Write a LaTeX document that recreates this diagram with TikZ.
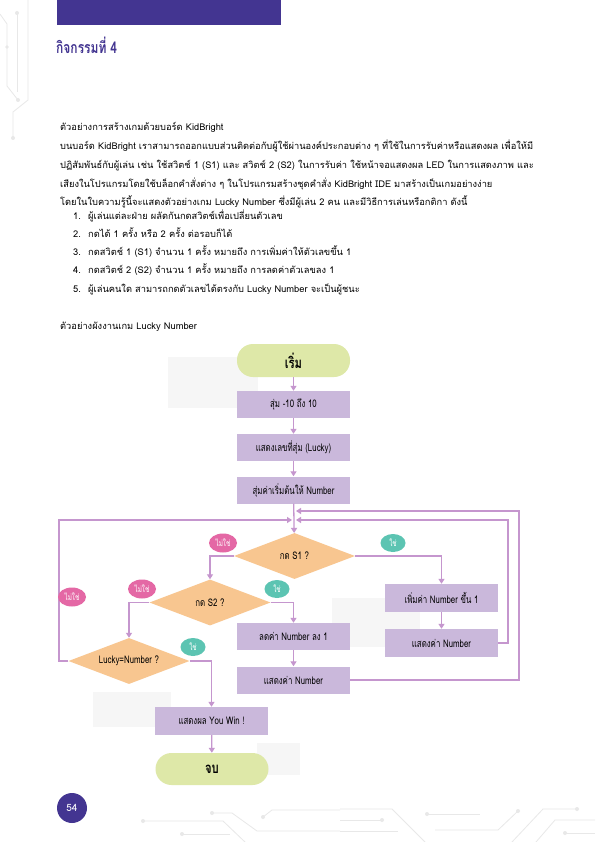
\documentclass[tikz,border=0pt]{standalone}
\usepackage{fontspec}
\setmainfont[Script=Thai]{Loma}
\newfontfamily\condf[Script=Thai,FakeStretch=0.75]{Loma}
\newfontfamily\bodyf[Script=Thai]{Loma}
\usetikzlibrary{arrows.meta,shapes.geometric}
\definecolor{darkpurple}{RGB}{67,53,145}
\definecolor{termgreen}{RGB}{222,232,168}
\definecolor{proclav}{RGB}{202,184,219}
\definecolor{decpeach}{RGB}{248,198,144}
\definecolor{linec}{RGB}{197,150,206}
\definecolor{yesteal}{RGB}{92,196,178}
\definecolor{nopink}{RGB}{228,104,165}
\definecolor{circuit}{RGB}{232,232,232}
\definecolor{patch}{RGB}{246,246,246}
\begin{document}
\begin{tikzpicture}[x=1pt,y=-1pt,
  term/.style={rectangle, rounded corners=16pt, fill=termgreen, minimum width=113pt, minimum height=33pt, font=\condf\bfseries\fontsize{15}{16}\selectfont},
  proc/.style={rectangle, fill=proclav, minimum width=113pt, minimum height=27pt, inner sep=1pt, font=\condf\fontsize{10.5}{11}\selectfont},
  dec/.style={diamond, fill=decpeach, aspect=2.6, inner sep=1pt, minimum width=121pt, minimum height=46pt, font=\condf\fontsize{10.5}{11}\selectfont},
  yesl/.style={ellipse, fill=yesteal, text=white, minimum width=25pt, minimum height=18pt, inner sep=0pt, font=\condf\fontsize{8.5}{9}\selectfont},
  nol/.style={ellipse, fill=nopink, text=white, minimum width=28pt, minimum height=19pt, inner sep=0pt, font=\condf\fontsize{8.5}{9}\selectfont},
  arr/.style={draw=linec, line width=1.3pt, -{Triangle[length=5pt,width=6pt]}},
  bodytext/.style={anchor=base west, inner sep=0pt, font=\bodyf\fontsize{9.3}{10}\selectfont},
  circ/.style={draw=circuit, line width=0.8pt},
  dot/.style={fill=circuit}
]
\useasboundingbox (0,0) rectangle (595,842);
\fill[white] (0,0) rectangle (595,842);

% circuit decorations
\draw[circ] (28,0) -- (28,100) -- (13,112) -- (13,138);
\fill[dot] (13,138) circle (2);
\draw[circ] (17,13) -- (17,92);
\fill[dot] (17,13) circle (2);
\draw[circ] (0,14) -- (7,24) -- (7,86) -- (18,100);
\fill[dot] (18,100) circle (2);
\fill[dot] (7,47) circle (1.8);
\draw[circ] (340,809) -- (392,809) -- (425,842);
\draw[circ] (340,820) -- (382,820); \fill[dot] (382,820) circle (2);
\draw[circ] (340,831) -- (398,831);
\draw[circ] (427,814) -- (480,814); \fill[dot] (427,814) circle (2);
\draw[circ] (435,830) -- (498,830) -- (518,811); \fill[dot] (518,811) circle (2);
\draw[circ] (512,842) -- (543,809) -- (577,809); \fill[dot] (577,809) circle (2);
\draw[circ] (536,842) -- (555,820) -- (595,820);
\draw[circ] (565,833) -- (595,833); \fill[dot] (565,833) circle (2);
\draw[circ] (143,821) -- (223,821) -- (245,842); \fill[dot] (143,821) circle (2);
\draw[circ] (212,813) -- (232,813) -- (257,831) -- (340,831); \fill[dot] (212,813) circle (2);
\draw[circ] (182,834) -- (230,834); \fill[dot] (182,834) circle (2);
\draw[circ] (263,817) -- (272,810) -- (340,810); \fill[dot] (263,817) circle (2);

% faint patches
\fill[patch] (168,357) rectangle (258,408);
\fill[patch] (332,598) rectangle (420,647);
\fill[patch] (93,692) rectangle (171,727);
\fill[patch] (257,743) rectangle (300,775);

% header
\fill[darkpurple] (57,0) rectangle (281,25);
\node[anchor=west, inner sep=0pt, text=darkpurple, font=\condf\bfseries\fontsize{16}{17}\selectfont] (title) at (56,45) {กิจกรรมที่ 4};

% body text
\node[bodytext] (t1) at (60,131) {ตัวอย่างการสร้างเกมด้วยบอร์ด KidBright};
\node[bodytext] (t2) at (60,150) {บนบอร์ด KidBright เราสามารถออกแบบส่วนติดต่อกับผู้ใช้ผ่านองค์ประกอบต่าง ๆ ที่ใช้ในการรับค่าหรือแสดงผล เพื่อให้มี};
\node[bodytext] (t3) at (60,169) {ปฏิสัมพันธ์กับผู้เล่น เช่น ใช้สวิตช์ 1 (S1) และ สวิตช์ 2 (S2) ในการรับค่า ใช้หน้าจอแสดงผล LED ในการแสดงภาพ และ};
\node[bodytext] (t4) at (60,188) {เสียงในโปรแกรมโดยใช้บล็อกคำสั่งต่าง ๆ ในโปรแกรมสร้างชุดคำสั่ง KidBright IDE มาสร้างเป็นเกมอย่างง่าย};
\node[bodytext] (t5) at (60,206) {โดยในใบความรู้นี้จะแสดงตัวอย่างเกม Lucky Number ซึ่งมีผู้เล่น 2 คน และมีวิธีการเล่นหรือกติกา ดังนี้};
\node[bodytext] (n1) at (73,219) {1.};
\node[bodytext] (l1) at (88,219) {ผู้เล่นแต่ละฝ่าย ผลัดกันกดสวิตช์เพื่อเปลี่ยนตัวเลข};
\node[bodytext] (n2) at (73,237) {2.};
\node[bodytext] (l2) at (88,237) {กดได้ 1 ครั้ง หรือ 2 ครั้ง ต่อรอบก็ได้};
\node[bodytext] (n3) at (73,255) {3.};
\node[bodytext] (l3) at (88,255) {กดสวิตช์ 1 (S1) จำนวน 1 ครั้ง หมายถึง การเพิ่มค่าให้ตัวเลขขึ้น 1};
\node[bodytext] (n4) at (73,273) {4.};
\node[bodytext] (l4) at (88,273) {กดสวิตช์ 2 (S2) จำนวน 1 ครั้ง หมายถึง การลดค่าตัวเลขลง 1};
\node[bodytext] (n5) at (73,292) {5.};
\node[bodytext] (l5) at (88,292) {ผู้เล่นคนใด สามารถกดตัวเลขได้ตรงกับ Lucky Number จะเป็นผู้ชนะ};
\node[bodytext] (t6) at (60,329) {ตัวอย่างผังงานเกม Lucky Number};

% flowchart nodes
\node[term] (start) at (293.5,360.5) {เริ่ม};
\node[proc] (p1) at (293.5,404.5) {สุ่ม -10 ถึง 10};
\node[proc] (p2) at (293.5,447.5) {แสดงเลขที่สุ่ม (Lucky)};
\node[proc] (p3) at (293.5,490) {สุ่มค่าเริ่มต้นให้ Number};
\node[dec] (s1) at (294.5,556) {กด S1 ?};
\node[proc, minimum height=28pt] (inc) at (441.5,598) {เพิ่มค่า Number ขึ้น 1};
\node[proc, minimum height=28pt] (dispR) at (441.5,643) {แสดงค่า Number};
\node[dec] (s2) at (210,602.5) {กด S2 ?};
\node[proc] (decr) at (293.5,636.5) {ลดค่า Number ลง 1};
\node[proc] (dispL) at (293.5,680) {แสดงค่า Number};
\node[dec] (lucky) at (129,661) {Lucky=Number ?};
\node[proc, minimum height=28pt] (win) at (211.5,721) {แสดงผล You Win !};
\node[term, minimum height=32pt] (stop) at (212,769) {จบ};

% junction points
\coordinate (jR1) at (296,511);
\coordinate (jR2) at (296,520);
\coordinate (jL) at (292,520);

% connectors
\draw[arr] (start) -- (p1);
\draw[arr] (p1) -- (p2);
\draw[arr] (p2) -- (p3);
\draw[arr] (p3) -- (s1);
\draw[arr] (s1.east) -| (inc.north);
\draw[arr] (inc) -- (dispR);
\draw[arr] (dispR.east) -| (508,520) -- (jR2);
\draw[arr] (s1.west) -| (s2.north);
\draw[arr] (s2.east) -| (decr.north);
\draw[arr] (decr) -- (dispL);
\draw[arr] (dispL.east) -| (519,511) -- (jR1);
\draw[arr] (s2.west) -| (lucky.north);
\draw[arr] (lucky.east) -| (win.north);
\draw[arr] (lucky.west) -| (59,520) -- (jL);
\draw[arr] (win) -- (stop);

% branch labels
\node[nol] (no1) at (223,543) {ไม่ใช่};
\node[yesl] (yes1) at (393,543) {ใช่};
\node[nol] (no2) at (142,589) {ไม่ใช่};
\node[yesl] (yes2) at (277,589) {ใช่};
\node[nol] (no3) at (72,597) {ไม่ใช่};
\node[yesl] (yes3) at (193,647) {ใช่};

% page number
\node[circle, fill=darkpurple, minimum size=30pt, inner sep=0pt, text=white, font=\fontsize{10}{11}\selectfont] (page) at (72,808) {54};
\end{tikzpicture}
\end{document}
